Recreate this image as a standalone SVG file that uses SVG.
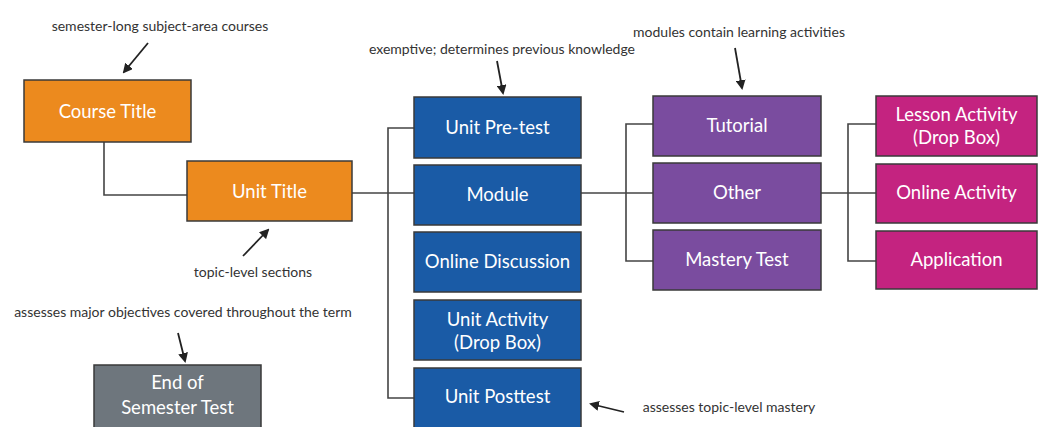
<svg xmlns="http://www.w3.org/2000/svg" width="1039" height="427" viewBox="0 0 1039 427">
<style>
.box{stroke:#3a3a3a;stroke-width:1.5}
.orange{fill:#EC8A1E}
.blue{fill:#1A5BA6}
.purple{fill:#7A4C9F}
.magenta{fill:#C42380}
.gray{fill:#6E767D}
.lbl{font-family:"Lato","Liberation Sans",sans-serif;font-size:18.5px;fill:#ffffff;text-anchor:middle}
.note{font-family:"Lato","Liberation Sans",sans-serif;font-size:14px;fill:#333333}
.wire{fill:none;stroke:#444444;stroke-width:1.6}
.arr{fill:none;stroke:#222222;stroke-width:1.8;marker-end:url(#ah)}
</style>
<defs>
<marker id="ah" viewBox="0 0 10 10" refX="8" refY="5" markerWidth="5.5" markerHeight="5.5" orient="auto">
<path d="M0,0 L10,5 L0,10 z" fill="#222222"/>
</marker>
</defs>
<rect width="1039" height="427" fill="#ffffff"/>
<g id="connectors">
<path class="wire" d="M104,142 V195 H187"/>
<path class="wire" d="M352,193 H414"/>
<path class="wire" d="M414,128 H388 V398 H414"/>
<path class="wire" d="M581,193 H653"/>
<path class="wire" d="M653,124 H626 V261 H653"/>
<path class="wire" d="M821,193 H876"/>
<path class="wire" d="M876,124 H848 V261 H876"/>
</g>
<g id="annotations">
<text class="note" x="160" y="31" text-anchor="middle">semester-long subject-area courses</text>
<line class="arr" x1="148" y1="43" x2="124" y2="72"/>
<text class="note" x="502" y="54" text-anchor="middle">exemptive; determines previous knowledge</text>
<line class="arr" x1="497" y1="61" x2="503" y2="93"/>
<text class="note" x="739" y="37" text-anchor="middle">modules contain learning activities</text>
<line class="arr" x1="735" y1="48" x2="742" y2="88"/>
<text class="note" x="253" y="277" text-anchor="middle">topic-level sections</text>
<line class="arr" x1="243" y1="256" x2="268" y2="230"/>
<text class="note" x="183" y="317" text-anchor="middle">assesses major objectives covered throughout the term</text>
<line class="arr" x1="178" y1="333" x2="185" y2="361"/>
<text class="note" x="729" y="412" text-anchor="middle">assesses topic-level mastery</text>
<line class="arr" x1="624" y1="412" x2="591" y2="404"/>
</g>
<g id="course-title"><rect class="box orange" x="24" y="80" width="167" height="62"/><text class="lbl" x="107.5" y="118">Course Title</text></g>
<g id="unit-title"><rect class="box orange" x="187" y="161" width="165" height="60"/><text class="lbl" x="269.5" y="198">Unit Title</text></g>
<g id="end-of-semester-test"><rect class="box gray" x="94" y="365" width="167" height="64"/><text class="lbl" x="177.5" y="389">End of</text><text class="lbl" x="177.5" y="414">Semester Test</text></g>
<g id="unit-pre-test"><rect class="box blue" x="414" y="97" width="167" height="61"/><text class="lbl" x="497.5" y="134">Unit Pre-test</text></g>
<g id="module"><rect class="box blue" x="414" y="165" width="167" height="60"/><text class="lbl" x="497.5" y="201">Module</text></g>
<g id="online-discussion"><rect class="box blue" x="414" y="232" width="167" height="60"/><text class="lbl" x="497.5" y="268">Online Discussion</text></g>
<g id="unit-activity"><rect class="box blue" x="414" y="300" width="167" height="60"/><text class="lbl" x="497.5" y="326">Unit Activity</text><text class="lbl" x="497.5" y="349">(Drop Box)</text></g>
<g id="unit-posttest"><rect class="box blue" x="414" y="368" width="167" height="62"/><text class="lbl" x="497.5" y="403">Unit Posttest</text></g>
<g id="tutorial"><rect class="box purple" x="653" y="96" width="168" height="60"/><text class="lbl" x="737" y="132">Tutorial</text></g>
<g id="other"><rect class="box purple" x="653" y="163" width="168" height="60"/><text class="lbl" x="737" y="199">Other</text></g>
<g id="mastery-test"><rect class="box purple" x="653" y="230" width="168" height="60"/><text class="lbl" x="737" y="266">Mastery Test</text></g>
<g id="lesson-activity"><rect class="box magenta" x="876" y="96" width="161" height="60"/><text class="lbl" x="956.5" y="121">Lesson Activity</text><text class="lbl" x="956.5" y="144">(Drop Box)</text></g>
<g id="online-activity"><rect class="box magenta" x="876" y="164" width="161" height="59"/><text class="lbl" x="956.5" y="199">Online Activity</text></g>
<g id="application"><rect class="box magenta" x="876" y="231" width="161" height="58"/><text class="lbl" x="956.5" y="266">Application</text></g>
</svg>
